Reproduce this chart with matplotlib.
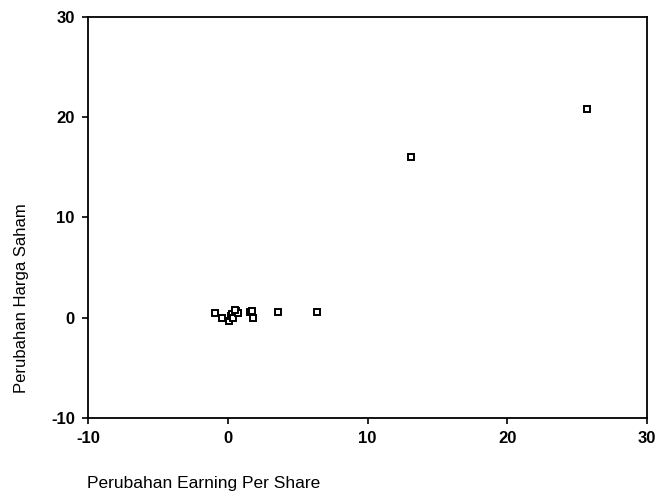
import matplotlib.pyplot as plt

plt.rcParams['font.family'] = ['Liberation Sans', 'DejaVu Sans']
plt.rcParams['axes.unicode_minus'] = False

# Perubahan EPS (x) vs Perubahan Harga Saham (y)
eps = [25.7, 13.1, -0.9, -0.4, 0.1, 0.2, 0.3, 0.4, 0.5, 0.6, 0.7, 0.5, 1.6, 1.7, 1.8, 3.6, 6.4]
harga = [20.8, 16.0, 0.5, 0.0, -0.3, 0.2, 0.4, 0.0, 0.6, 0.7, 0.5, 0.8, 0.6, 0.7, 0.0, 0.6, 0.6]

x_ticks = [-10, 0, 10, 20, 30]
y_ticks = [-10, 0, 10, 20, 30]

fig = plt.figure(figsize=(6.59, 4.97), dpi=100)
ax = fig.add_axes([0.1335, 0.159, 0.8485, 0.807])

ax.plot(eps, harga, linestyle='none', marker='s', markersize=5,
        markerfacecolor='white', markeredgecolor='black', markeredgewidth=1.4)

ax.set_xlim(-10, 30)
ax.set_ylim(-10, 30)
ax.set_xticks(x_ticks)
ax.set_yticks(y_ticks)
ax.tick_params(direction='out', length=4.5, width=1.2, labelsize=12, pad=5, top=False, right=False)
for lbl in ax.get_xticklabels() + ax.get_yticklabels():
    lbl.set_fontweight('bold')
for s in ax.spines.values():
    s.set_linewidth(1.3)

fig.text(0.132, 0.028, 'Perubahan Earning Per Share', fontsize=12.5, ha='left', va='center')
fig.text(0.032, 0.40, 'Perubahan Harga Saham', fontsize=12, rotation=90, ha='center', va='center')

fig.savefig('out.png', dpi=100)
